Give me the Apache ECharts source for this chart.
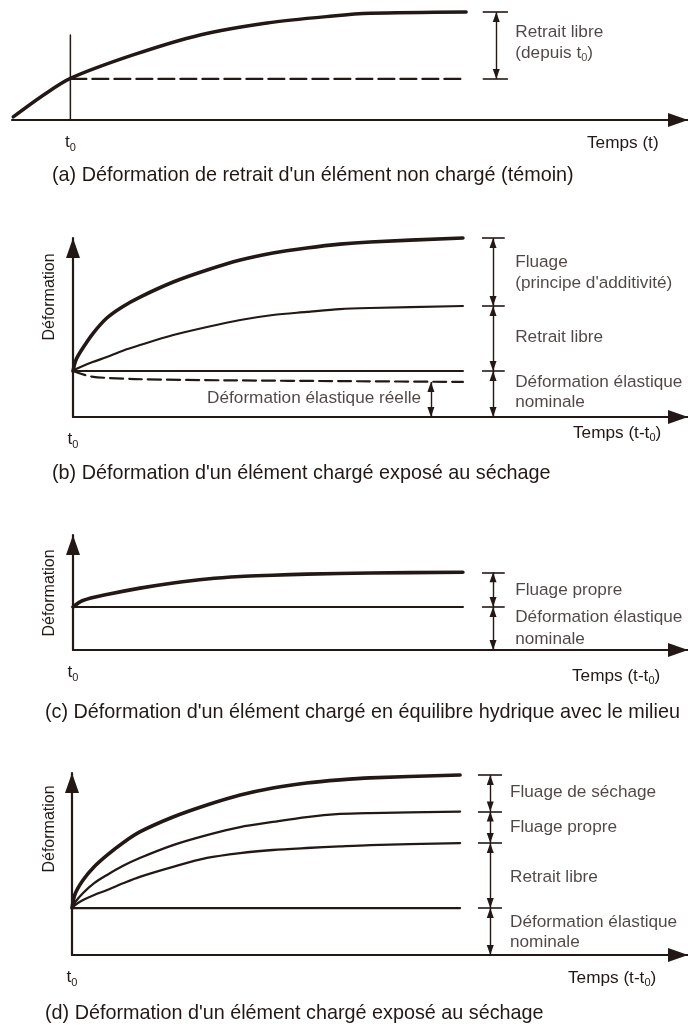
<!DOCTYPE html>
<html><head><meta charset="utf-8">
<script src="https://cdn.jsdelivr.net/npm/echarts@6/dist/echarts.min.js"></script>
<style>html,body{margin:0;padding:0;background:#fff}#c{width:688px;height:1027px}</style>
</head><body><div id="c"></div>
<script>
const INK = '#221916';
const FONT = '"Liberation Sans", Arial, Helvetica, sans-serif';

// ---------- Panel (a) : free shrinkage of unloaded specimen ----------
const timeA = [0.2, 4.9, 9.5, 19.7, 30.6, 41.5, 52.2, 58.3, 73.9];
const shrinkA = [2.8, 22.2, 38.5, 60.2, 78.7, 89.8, 96.3, 98.8, 100];
const t0A = 9.5;
const t0LineTopA = 78.7;
const shrinkAtT0A = 38;
const endA = 73.9;
const stopsA = [100, 38];
const labelsA = ['Retrait libre', '(depuis t{s|0})'];
const labelYA = [81.5, 62];

// ---------- Panel (b) : loaded specimen, drying ----------
const timeB = [0, 0.5, 1.6, 3.2, 5.5, 8.0, 10.9, 16.3, 21.8, 27.2, 32.5, 38.0, 43.4, 48.3, 63.4];
const totalB = [25.7, 32.0, 38.5, 46.5, 55.3, 61.5, 67.0, 75.4, 82.1, 87.7, 91.6, 94.4, 96.6, 97.8, 100];
const shrinkB = [25.7, 26.8, 28.5, 30.7, 33.5, 36.9, 40.2, 45.8, 50.3, 54.2, 57.0, 58.7, 60.3, 60.9, 62.0];
const elasticB = 25.7;
const endB = 63.4;
const timeRealB = [0, 3, 10, 25, 45, 63.4];
const realB = [25.7, 22.6, 21.2, 20.5, 20.0, 19.6];
const stopsB = [100, 62.0, 25.7, 0];
const labelsB = ['Fluage', "(principe d'additivité)", 'Retrait libre', 'Déformation élastique', 'nominale'];
const labelYB = [86.6, 74.9, 44.7, 19.6, 8.4];
const realLabelB = 'Déformation élastique réelle';
const realStopsB = [19.6, 0];

// ---------- Panel (c) : loaded specimen, hygral equilibrium ----------
const timeC = [0, 1.6, 5.5, 10.9, 16.3, 21.8, 27.2, 32.5, 38.0, 48.3, 63.4];
const totalC = [37.4, 43.0, 48.2, 53.8, 58.3, 61.8, 63.9, 65.0, 66.0, 67.0, 67.6];
const elasticC = 37.4;
const endC = 63.4;
const stopsC = [67.6, 37.4, 0];
const labelsC = ['Fluage propre', 'Déformation élastique', 'nominale'];
const labelYC = [52.2, 28.7, 9.6];

// ---------- Panel (d) : loaded specimen, drying (decomposed) ----------
const timeD = [0, 0.5, 1.8, 3.6, 5.7, 8.3, 11.0, 16.4, 21.9, 27.3, 32.6, 38.1, 43.5, 48.4, 63.0];
const totalD = [25.8, 33.5, 41.2, 48.5, 54.9, 61.7, 67.6, 75.8, 82.4, 87.9, 91.8, 94.5, 96.2, 97.3, 98.9];
const basicD = [25.8, 29.0, 34.1, 39.5, 44.0, 49.0, 53.3, 60.4, 65.9, 70.3, 73.1, 75.8, 77.5, 78.0, 78.8];
const shrinkD = [25.8, 27.5, 30.2, 33.0, 35.7, 39.4, 42.9, 48.4, 53.3, 56.0, 57.7, 58.8, 59.7, 60.4, 61.5];
const elasticD = 25.8;
const endD = 63.0;
const stopsD = [98.9, 78.8, 61.5, 25.8, 0];
const labelsD = ['Fluage de séchage', 'Fluage propre', 'Retrait libre', 'Déformation élastique', 'nominale'];
const labelYD = [89.6, 70.3, 42.9, 18.1, 7.1];

const captions = [
  "(a) Déformation de retrait d'un élément non chargé (témoin)",
  "(b) Déformation d'un élément chargé exposé au séchage",
  "(c) Déformation d'un élément chargé en équilibre hydrique avec le milieu",
  "(d) Déformation d'un élément chargé exposé au séchage"
];
const timeNames = ['Temps (t)', 'Temps (t-t{s|0})', 'Temps (t-t{s|0})', 'Temps (t-t{s|0})'];
const yName = 'Déformation';

// ---------- layout (pixels / styles only) ----------
const L = [
  {grid:{left:12, top:12, right:0, bottom:907}, xMax:110, yShow:false, mx:78.8, tl:76.6, tr:80.7, tx:81.9, cap:[52,176], tn:[587,143], t0:t0A},
  {grid:{left:73, top:238, right:0, bottom:610}, xMax:100, yShow:true, mx:68.3, tl:66.5, tr:70.2, tx:71.9, cap:[52,474], tn:[573,433], yn:[50,297], t0:0},
  {grid:{left:73, top:535, right:0, bottom:377}, xMax:100, yShow:true, mx:68.3, tl:66.5, tr:70.2, tx:71.9, cap:[45,713], tn:[572,676], yn:[50,593], t0:0},
  {grid:{left:72, top:773, right:0, bottom:72}, xMax:100, yShow:true, mx:67.9, tl:65.9, tr:69.8, tx:71.1, cap:[45,1014], tn:[568,978], yn:[50,829], t0:0}
];
const LABEL_SIZE = 17.2;
const CAPTION_SIZE = 19.8;
const RICH = { s: { fontSize: 11, fontFamily: FONT, color: INK, padding: [10, 0, 0, 0] } };

function zip(xs, ys){ return xs.map((x,k)=>[x, ys[k]]); }
function curve(i, data, width, dash, smooth){
  return {type:'line', xAxisIndex:i, yAxisIndex:i, data, showSymbol:false, symbol:'none',
    smooth: smooth === undefined ? 0.3 : smooth, clip:false, silent:true, z:3,
    lineStyle:{color:INK, width, type: dash || 'solid', cap:'round', join:'round'}};
}
function markers(i, stops, withTicks, x){
  const P = L[i];
  const mx = x === undefined ? P.mx : x;
  const ticks = withTicks.map(v => [{coord:[P.tl, v]}, {coord:[P.tr, v]}]);
  const arrows = [];
  for (let k=0;k<stops.length-1;k++) arrows.push([{coord:[mx, stops[k]]},{coord:[mx, stops[k+1]]}]);
  const out = [
    {type:'line', xAxisIndex:i, yAxisIndex:i, data:[[0,0]], showSymbol:false, symbol:'none', lineStyle:{opacity:0}, silent:true,
      markLine:{silent:true, animation:false, symbol:['triangle','triangle'], symbolSize:[7,10], symbolOffset:[[0,'50%'],[0,'50%']],
        label:{show:false}, emphasis:{disabled:true}, lineStyle:{color:INK, width:1.4, type:'solid'}, data:arrows}}
  ];
  if (ticks.length) out.push({type:'line', xAxisIndex:i, yAxisIndex:i, data:[[0,0]], showSymbol:false, symbol:'none', lineStyle:{opacity:0}, silent:true,
      markLine:{silent:true, animation:false, symbol:'none', label:{show:false}, emphasis:{disabled:true},
        lineStyle:{color:INK, width:1.6, type:'solid'}, data:ticks}});
  return out;
}
function labels(i, texts, ys, x, pos){
  return {type:'scatter', xAxisIndex:i, yAxisIndex:i, symbolSize:0, silent:true, z:5,
    data: texts.map((t,k)=>({value:[x, ys[k]], name:t})),
    label:{show:true, position: pos || 'right', distance:0, formatter:'{b}', color:INK, fontSize:LABEL_SIZE, fontFamily:FONT, rich:RICH}};
}

const series = [
  // (a)
  curve(0, zip(timeA, shrinkA), 3.4),
  curve(0, [[t0A, 0],[t0A, t0LineTopA]], 1.5, null, false),
  curve(0, [[t0A, shrinkAtT0A],[endA, shrinkAtT0A]], 2.2, [16, 6], false),
  ...markers(0, stopsA, stopsA),
  labels(0, labelsA, labelYA, L[0].tx),
  // (b)
  curve(1, zip(timeB, totalB), 3.6),
  curve(1, zip(timeB, shrinkB), 2.2),
  curve(1, [[0, elasticB],[endB, elasticB]], 2.2, null, false),
  curve(1, zip(timeRealB, realB), 2.2, [13, 6]),
  ...markers(1, stopsB, stopsB.slice(0,3)),
  ...markers(1, realStopsB, [], 58.2),
  labels(1, labelsB, labelYB, L[1].tx),
  labels(1, [realLabelB], [10.6], 56.6, 'left'),
  // (c)
  curve(2, zip(timeC, totalC), 3.6),
  curve(2, [[0, elasticC],[endC, elasticC]], 2.2, null, false),
  ...markers(2, stopsC, stopsC.slice(0,2)),
  labels(2, labelsC, labelYC, L[2].tx),
  // (d)
  curve(3, zip(timeD, totalD), 3.6),
  curve(3, zip(timeD, basicD), 2.3),
  curve(3, zip(timeD, shrinkD), 2.3),
  curve(3, [[0, elasticD],[endD, elasticD]], 2.2, null, false),
  ...markers(3, stopsD, stopsD.slice(0,4)),
  labels(3, labelsD, labelYD, L[3].tx)
];

const axisLine = (show) => ({show, symbol:['none','triangle'], symbolSize:[14,20], symbolOffset:[0,-10],
  lineStyle:{color:INK, width:2.2}});

const option = {
  backgroundColor:'#ffffff',
  animation:false,
  grid: L.map(p => p.grid),
  xAxis: L.map((p,i) => ({type:'value', gridIndex:i, min:0, max:p.xMax, axisLine:axisLine(true),
    axisTick:{show:false}, splitLine:{show:false},
    axisLabel:{show:true, customValues:[p.t0], margin:12, formatter:()=>'t{s|0}', color:INK, fontSize:LABEL_SIZE, fontFamily:FONT, rich:RICH}})),
  yAxis: L.map((p,i) => ({type:'value', gridIndex:i, min:0, max:100, show:p.yShow, axisLine:axisLine(p.yShow),
    axisTick:{show:false}, splitLine:{show:false}, axisLabel:{show:false}})),
  series,
  graphic: [
    ...L.map((p,i) => ({type:'text', x:p.cap[0], y:p.cap[1], silent:true,
      style:{text:captions[i], fontSize:CAPTION_SIZE, fontFamily:FONT, fill:INK, align:'left', verticalAlign:'middle'}})),
    ...L.map((p,i) => ({type:'text', x:p.tn[0], y:p.tn[1], silent:true,
      style:{text:timeNames[i], fontSize:LABEL_SIZE, fontFamily:FONT, fill:INK, align:'left', verticalAlign:'middle', rich:RICH}})),
    ...L.filter(p => p.yn).map(p => ({type:'text', x:p.yn[0], y:p.yn[1], rotation:Math.PI/2, silent:true,
      style:{text:yName, fontSize:16, fontFamily:FONT, fill:INK, align:'center', verticalAlign:'middle'}}))
  ]
};
echarts.init(document.getElementById('c'), null, {renderer:'canvas'}).setOption(option);
</script></body></html>
